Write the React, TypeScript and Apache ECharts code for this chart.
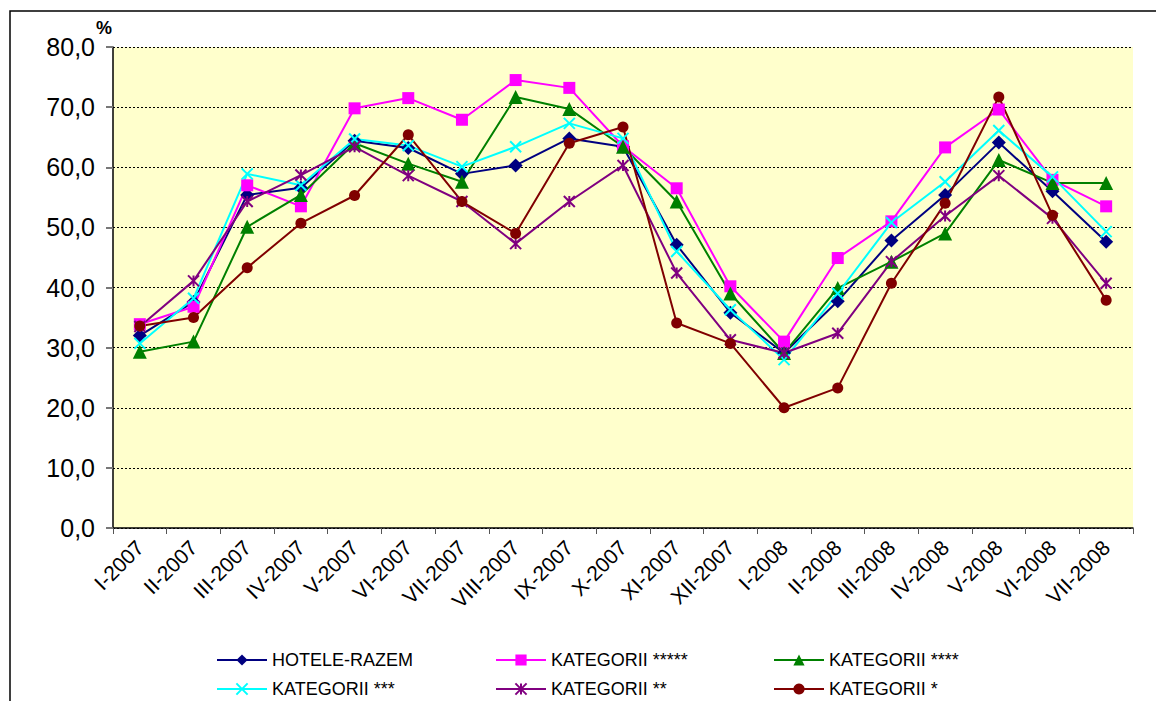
import React, { useEffect, useRef } from "react";
import * as echarts from "echarts";

const categories = [
  "I-2007", "II-2007", "III-2007", "IV-2007", "V-2007", "VI-2007", "VII-2007",
  "VIII-2007", "IX-2007", "X-2007", "XI-2007", "XII-2007", "I-2008", "II-2008",
  "III-2008", "IV-2008", "V-2008", "VI-2008", "VII-2008",
];

const hoteleRazem = [32.0, 37.6, 55.4, 56.6, 64.4, 63.2, 58.9, 60.3, 64.8, 63.4, 47.1, 35.8, 29.1, 37.7, 47.8, 55.4, 64.1, 56.0, 47.6];
const kat5 = [33.9, 36.8, 57.0, 53.5, 69.8, 71.5, 67.9, 74.5, 73.2, 63.5, 56.5, 40.2, 31.0, 44.9, 51.0, 63.3, 69.6, 57.9, 53.5];
const kat4 = [29.3, 31.0, 50.1, 55.4, 64.0, 60.6, 57.6, 71.7, 69.7, 63.4, 54.3, 39.0, 29.1, 39.9, 44.3, 49.0, 61.2, 57.4, 57.4];
const kat3 = [30.7, 38.2, 58.9, 57.0, 64.7, 63.6, 60.1, 63.4, 67.3, 64.8, 46.0, 36.3, 28.0, 39.0, 50.8, 57.6, 66.1, 58.4, 49.3];
const kat2 = [33.5, 41.1, 54.3, 58.7, 63.4, 58.6, 54.3, 47.3, 54.3, 60.3, 42.4, 31.3, 29.1, 32.4, 44.3, 51.9, 58.6, 51.5, 40.7];
const kat1 = [33.6, 35.0, 43.3, 50.7, 55.3, 65.4, 54.3, 49.0, 64.0, 66.7, 34.1, 30.7, 20.0, 23.3, 40.7, 54.0, 71.7, 52.0, 37.9];

const yTicks = { min: 0, max: 80, interval: 10 };

const FONT = 'Arial, "Liberation Sans", sans-serif';

export default function App() {
  const ref = useRef<HTMLDivElement>(null);

  useEffect(() => {
    if (!ref.current) return;
    const chart = echarts.init(ref.current, null, { renderer: "svg" });

    const mk = (
      name: string,
      data: number[],
      color: string,
      symbol: string,
      symbolSize: number,
      stroked = false
    ) => ({
      name,
      type: "line",
      data,
      symbol,
      symbolSize,
      showAllSymbol: true,
      lineStyle: { color, width: 2 },
      itemStyle: stroked
        ? { color, borderColor: color, borderWidth: 2 }
        : { color, borderWidth: 0 },
      emphasis: { disabled: true },
      z: 2,
    });

    const legendCommon = {
      orient: "vertical",
      top: 651,
      height: 60,
      padding: 0,
      itemWidth: 50,
      itemHeight: 14,
      itemGap: 11,
      textStyle: { fontFamily: FONT, fontSize: 18, color: "#000" },
      selectedMode: false,
    };

    chart.setOption({
      animation: false,
      backgroundColor: "#fff",
      textStyle: { fontFamily: FONT },
      grid: {
        left: 113,
        top: 47,
        width: 1020,
        height: 481,
        show: true,
        backgroundColor: "#FFFFCC",
        borderWidth: 0,
      },
      legend: [
        { ...legendCommon, left: 216, data: ["HOTELE-RAZEM", "KATEGORII ***"] },
        { ...legendCommon, left: 495, data: ["KATEGORII *****", "KATEGORII **"] },
        { ...legendCommon, left: 773, data: ["KATEGORII ****", "KATEGORII *"] },
      ],
      xAxis: {
        type: "category",
        data: categories,
        boundaryGap: true,
        axisLine: { lineStyle: { color: "#000", width: 1.5 } },
        axisTick: { show: true, length: 6, lineStyle: { color: "#555" } },
        axisLabel: {
          rotate: 45,
          interval: 0,
          margin: 16,
          fontFamily: FONT,
          fontSize: 21,
          color: "#000",
        },
      },
      yAxis: {
        type: "value",
        min: yTicks.min,
        max: yTicks.max,
        interval: yTicks.interval,
        axisLine: { show: true, lineStyle: { color: "#000", width: 1.5 } },
        axisTick: { show: true, length: 7, lineStyle: { color: "#777", width: 2 } },
        splitLine: { show: true, lineStyle: { color: "#000", type: [2, 2], width: 1 } },
        axisLabel: {
          margin: 18,
          fontFamily: FONT,
          fontSize: 25,
          color: "#000",
          formatter: (v: number) => v.toFixed(1).replace(".", ","),
        },
      },
      graphic: [
        {
          type: "rect",
          silent: true,
          shape: { x: 10, y: 11, width: 1300, height: 900 },
          style: { fill: "none", stroke: "#000", lineWidth: 1.5 },
          z: 100,
        },
        {
          type: "text",
          left: 96,
          top: 19,
          style: { text: "%", font: `bold 18px ${FONT}`, fill: "#000" },
        },
      ],
      series: [
        mk("HOTELE-RAZEM", hoteleRazem, "#000080", "diamond", 14),
        mk("KATEGORII *****", kat5, "#FF00FF", "rect", 12),
        mk("KATEGORII ****", kat4, "#008000", "triangle", 14),
        mk("KATEGORII ***", kat3, "#00FFFF", "path://M0,0L10,10M10,0L0,10", 11, true),
        mk("KATEGORII **", kat2, "#800080", "path://M0,0L10,10M10,0L0,10M5,0L5,10", 11, true),
        mk("KATEGORII *", kat1, "#800000", "circle", 11),
      ],
    });

    return () => chart.dispose();
  }, []);

  return (
    <div
      ref={ref}
      style={{ position: "absolute", left: 0, top: 0, width: 1156, height: 701 }}
    />
  );
}
